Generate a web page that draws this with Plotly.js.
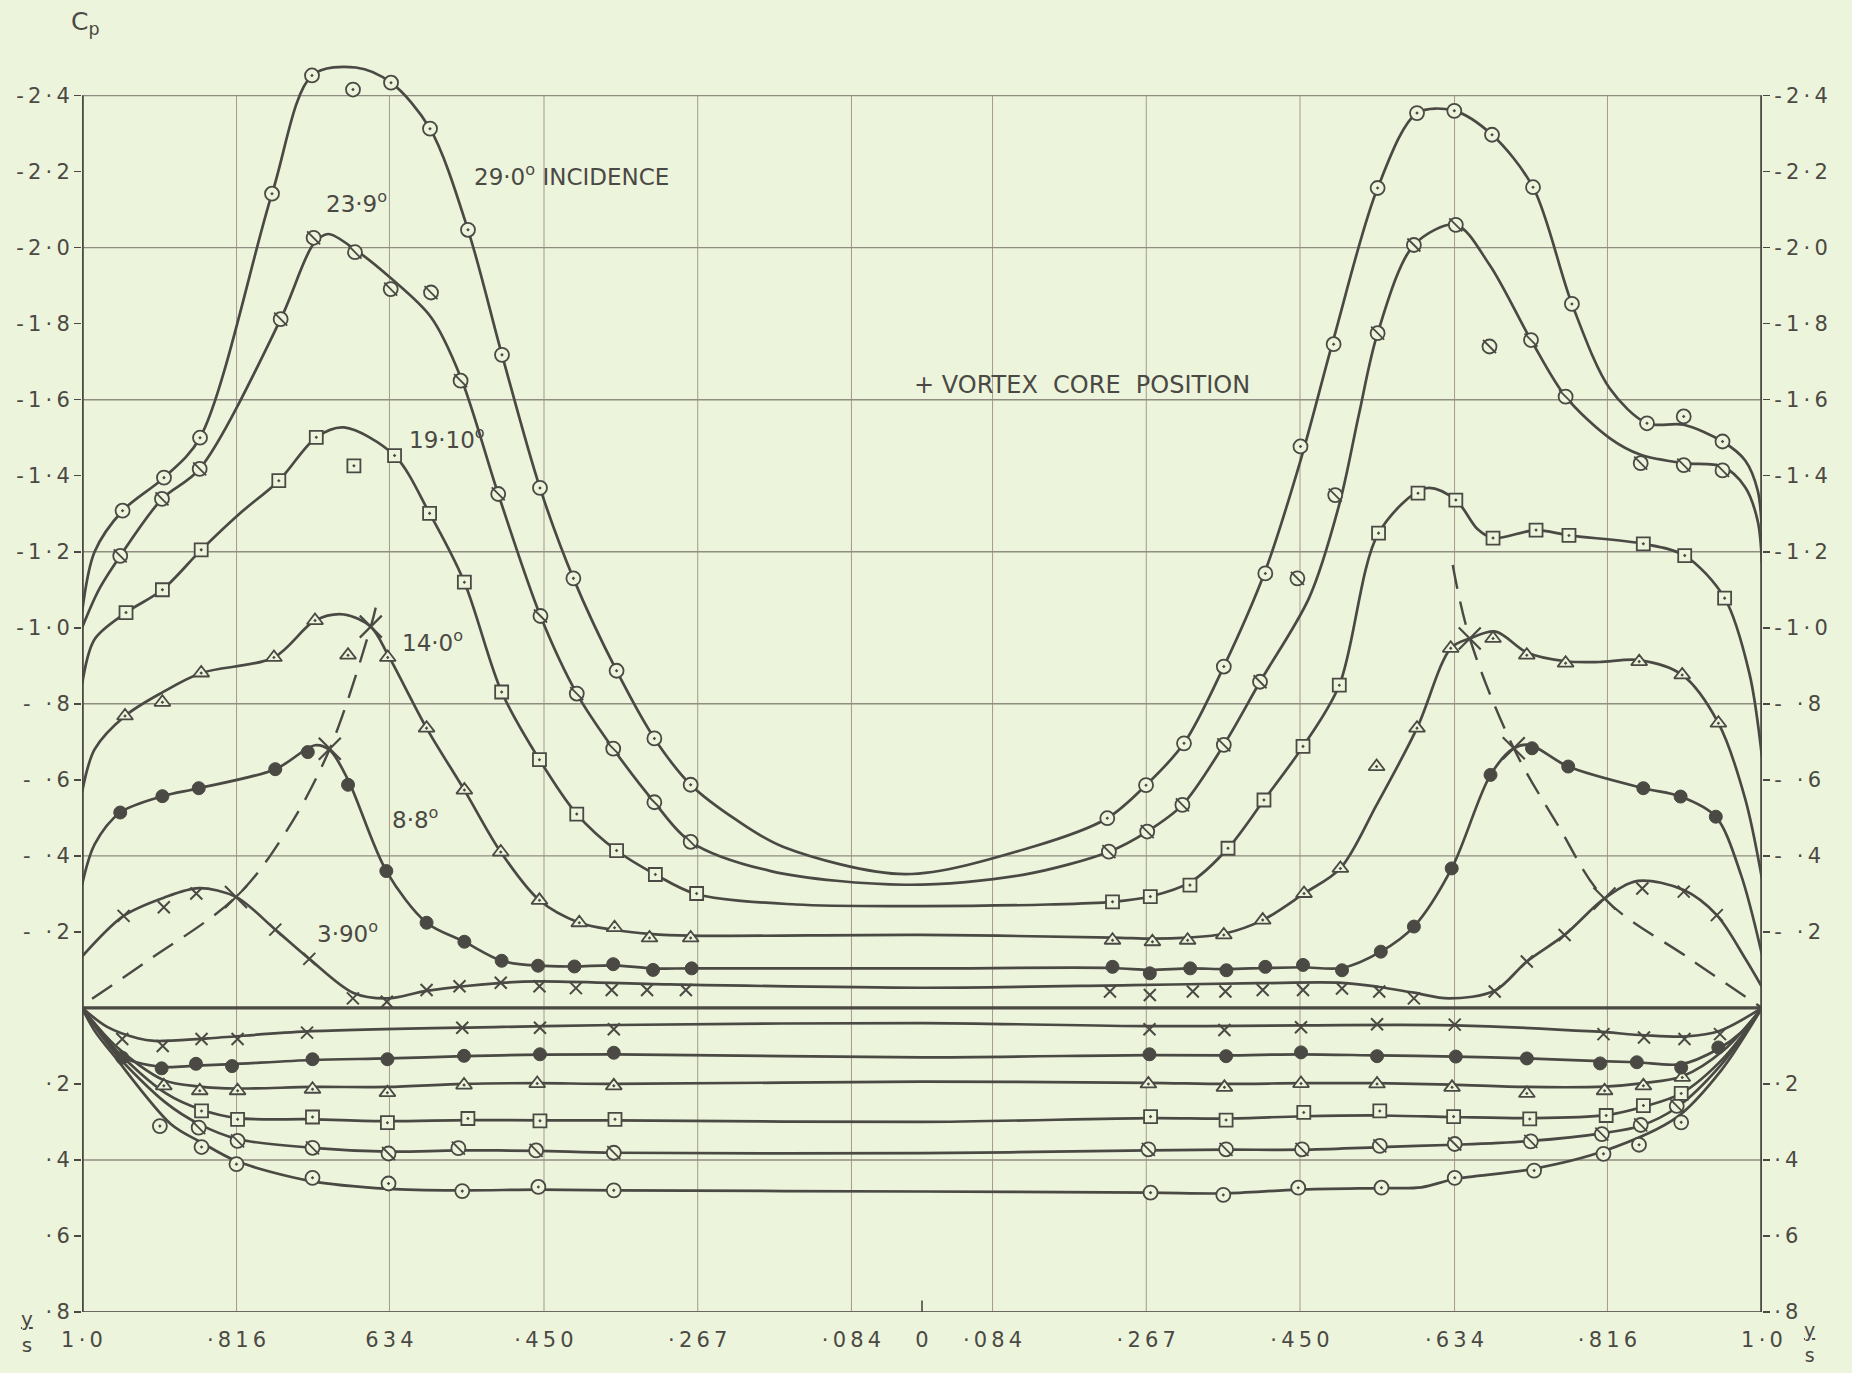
<!DOCTYPE html>
<html><head><meta charset="utf-8">
<script src="https://cdn.plot.ly/plotly-3.0.1.min.js"></script>
<style>html,body{margin:0;padding:0;background:#edf4dc;}#chart{width:1852px;height:1373px;}</style>
</head><body><div id="chart"></div>
<script>
// ---------- axis ticks ----------
const xTickVals = [-1, -0.816, -0.634, -0.45, -0.267, -0.084, 0, 0.084, 0.267, 0.45, 0.634, 0.816, 1];
const xTickText = ['1·0', '·816', '634', '·450', '·267', '·084', '0', '·084', '·267', '·450', '·634', '·816', '1·0'];
const yTickVals = [-2.4, -2.2, -2.0, -1.8, -1.6, -1.4, -1.2, -1.0, -0.8, -0.6, -0.4, -0.2, 0.2, 0.4, 0.6, 0.8];
const yTickText = ['-2·4', '-2·2', '-2·0', '-1·8', '-1·6', '-1·4', '-1·2', '-1·0', '- ·8', '- ·6', '- ·4', '- ·2', '·2', '·4', '·6', '·8'];
const gridY = [-2.4, -2.0, -1.6, -1.2, -0.8, -0.4, 0.4];

// ---------- 29.0 deg ----------
const m29uX = [-0.9517, -0.9024, -0.8595, -0.7738, -0.7262, -0.6774, -0.6321, -0.5857, -0.5405, -0.5, -0.4548, -0.415, -0.3636, -0.3186, -0.2754, 0.2206, 0.2667, 0.3119, 0.3593, 0.4087, 0.4506, 0.49, 0.5424, 0.5893, 0.6337, 0.6786, 0.7274, 0.7737, 0.8631, 0.9068, 0.953];
const m29uY = [-1.308, -1.395, -1.5, -2.142, -2.453, -2.416, -2.434, -2.313, -2.047, -1.718, -1.368, -1.13, -0.887, -0.709, -0.587, -0.499, -0.586, -0.696, -0.898, -1.143, -1.477, -1.746, -2.157, -2.354, -2.36, -2.297, -2.159, -1.852, -1.538, -1.556, -1.49];
const c29uX = [-1.0, -0.985, -0.9517, -0.9024, -0.8595, -0.7738, -0.7262, -0.674, -0.6321, -0.5857, -0.5405, -0.5, -0.4548, -0.415, -0.3636, -0.3186, -0.2754, -0.2214, -0.1656, -0.02, 0.132, 0.2206, 0.2667, 0.3119, 0.3593, 0.4087, 0.4506, 0.49, 0.5424, 0.5893, 0.6337, 0.6786, 0.7274, 0.7737, 0.8186, 0.8631, 0.9068, 0.953, 0.98, 0.995, 1.0];
const c29uY = [-1.04, -1.2, -1.308, -1.395, -1.5, -2.142, -2.453, -2.474, -2.434, -2.313, -2.047, -1.718, -1.368, -1.13, -0.887, -0.709, -0.587, -0.495, -0.424, -0.352, -0.424, -0.499, -0.586, -0.696, -0.898, -1.15, -1.44, -1.76, -2.157, -2.354, -2.36, -2.297, -2.159, -1.852, -1.63, -1.538, -1.534, -1.49, -1.44, -1.36, -1.25];
const m29lX = [-0.9073, -0.8577, -0.8161, -0.7256, -0.6351, -0.5473, -0.4567, -0.3669, 0.2721, 0.3587, 0.4479, 0.547, 0.6342, 0.7287, 0.8113, 0.8536, 0.9038];
const m29lY = [0.311, 0.366, 0.411, 0.447, 0.462, 0.482, 0.471, 0.48, 0.486, 0.492, 0.473, 0.473, 0.447, 0.428, 0.384, 0.36, 0.301];
const c29lX = [-1.0, -0.985, -0.96, -0.894, -0.8577, -0.8161, -0.729, -0.6351, -0.5473, -0.4567, -0.3669, 0.0, 0.2721, 0.3587, 0.4479, 0.547, 0.5945, 0.6342, 0.7267, 0.8126, 0.8985, 0.9512, 1.0];
const c29lY = [0, 0.06, 0.131, 0.306, 0.354, 0.403, 0.455, 0.476, 0.48, 0.478, 0.48, 0.483, 0.486, 0.488, 0.478, 0.474, 0.472, 0.45, 0.424, 0.376, 0.288, 0.165, 0];

// ---------- 23.9 deg ----------
const m239uX = [-0.9545, -0.9048, -0.8599, -0.7635, -0.7243, -0.675, -0.6325, -0.5845, -0.5493, -0.5045, -0.4542, -0.411, -0.3676, -0.3186, -0.2754, 0.2225, 0.2681, 0.31, 0.3593, 0.4024, 0.4469, 0.4919, 0.5424, 0.5856, 0.6355, 0.6756, 0.725, 0.7662, 0.8556, 0.9068, 0.953];
const m239uY = [-1.189, -1.339, -1.418, -1.812, -2.026, -1.988, -1.891, -1.882, -1.65, -1.352, -1.031, -0.827, -0.682, -0.541, -0.437, -0.411, -0.464, -0.534, -0.692, -0.858, -1.13, -1.349, -1.775, -2.007, -2.06, -1.74, -1.757, -1.608, -1.433, -1.428, -1.414];
const c239uX = [-1.0, -0.98, -0.9545, -0.9048, -0.8599, -0.7635, -0.7243, -0.707, -0.675, -0.6325, -0.5845, -0.5493, -0.5045, -0.4542, -0.411, -0.3676, -0.3186, -0.2754, -0.18, -0.02, 0.12, 0.2225, 0.2681, 0.31, 0.3593, 0.4024, 0.4611, 0.4974, 0.52, 0.5424, 0.5856, 0.6355, 0.6756, 0.725, 0.7662, 0.8186, 0.8556, 0.9068, 0.953, 0.98, 0.995, 1.0];
const c239uY = [-1.0, -1.1, -1.189, -1.339, -1.418, -1.812, -2.01, -2.036, -1.995, -1.92, -1.817, -1.66, -1.352, -1.031, -0.827, -0.682, -0.541, -0.437, -0.36, -0.324, -0.35, -0.411, -0.464, -0.534, -0.692, -0.858, -1.08, -1.33, -1.56, -1.775, -2.007, -2.06, -1.955, -1.757, -1.608, -1.499, -1.455, -1.433, -1.424, -1.37, -1.28, -1.17];
const m239lX = [-0.8611, -0.8148, -0.7256, -0.6351, -0.5519, -0.4594, -0.3669, 0.2695, 0.362, 0.4524, 0.545, 0.6342, 0.7248, 0.8093, 0.8556, 0.8985];
const m239lY = [0.315, 0.35, 0.368, 0.383, 0.369, 0.375, 0.381, 0.372, 0.372, 0.372, 0.363, 0.358, 0.351, 0.332, 0.308, 0.258];
const c239lX = [-1.0, -0.96, -0.9, -0.8611, -0.8148, -0.7256, -0.6351, -0.5519, -0.4594, -0.3669, 0.0, 0.2695, 0.362, 0.4524, 0.545, 0.6342, 0.7248, 0.8093, 0.8556, 0.8985, 0.9512, 1.0];
const c239lY = [0, 0.12, 0.25, 0.305, 0.345, 0.368, 0.378, 0.375, 0.376, 0.381, 0.382, 0.375, 0.373, 0.373, 0.366, 0.36, 0.35, 0.33, 0.31, 0.262, 0.15, 0];

// ---------- 19.10 deg ----------
const m191uX = [-0.9476, -0.9043, -0.8581, -0.7657, -0.7211, -0.6763, -0.6279, -0.5862, -0.5448, -0.5004, -0.4554, -0.411, -0.3636, -0.3174, -0.2683, 0.2268, 0.2718, 0.319, 0.3643, 0.4071, 0.4536, 0.4968, 0.5435, 0.5905, 0.6355, 0.6798, 0.731, 0.7702, 0.8587, 0.908, 0.9555];
const m191uY = [-1.04, -1.1, -1.205, -1.387, -1.501, -1.426, -1.453, -1.301, -1.12, -0.831, -0.653, -0.51, -0.414, -0.351, -0.301, -0.279, -0.293, -0.323, -0.42, -0.547, -0.688, -0.849, -1.249, -1.354, -1.336, -1.236, -1.257, -1.243, -1.221, -1.19, -1.078];
const c191uX = [-1.0, -0.985, -0.9476, -0.9043, -0.8581, -0.8125, -0.7657, -0.7211, -0.6881, -0.6279, -0.5862, -0.5448, -0.5004, -0.4554, -0.411, -0.3636, -0.3174, -0.2683, -0.15, 0.0, 0.15, 0.2268, 0.2718, 0.319, 0.3643, 0.4071, 0.4536, 0.4968, 0.5435, 0.5998, 0.6355, 0.6612, 0.6798, 0.731, 0.7702, 0.8587, 0.908, 0.9555, 0.985, 1.0];
const c191uY = [-0.85, -0.97, -1.04, -1.1, -1.205, -1.3, -1.387, -1.501, -1.527, -1.453, -1.301, -1.12, -0.831, -0.653, -0.51, -0.414, -0.351, -0.299, -0.272, -0.268, -0.272, -0.279, -0.293, -0.33, -0.42, -0.547, -0.688, -0.849, -1.249, -1.367, -1.336, -1.26, -1.236, -1.257, -1.243, -1.221, -1.19, -1.078, -0.88, -0.66];
const m191lX = [-0.8577, -0.8148, -0.7256, -0.6364, -0.5406, -0.4548, -0.3655, 0.2721, 0.362, 0.4545, 0.545, 0.6329, 0.7235, 0.8145, 0.8588, 0.9038];
const m191lY = [0.271, 0.293, 0.287, 0.302, 0.291, 0.297, 0.293, 0.286, 0.295, 0.275, 0.271, 0.286, 0.292, 0.283, 0.257, 0.225];
const c191lX = [-1.0, -0.96, -0.9, -0.8577, -0.8148, -0.7256, -0.6364, -0.5406, -0.4548, -0.3655, 0.0, 0.2721, 0.362, 0.4545, 0.545, 0.6329, 0.7235, 0.8145, 0.8588, 0.9038, 0.955, 1.0];
const c191lY = [0, 0.11, 0.225, 0.268, 0.29, 0.293, 0.298, 0.295, 0.296, 0.296, 0.3, 0.29, 0.291, 0.285, 0.283, 0.287, 0.29, 0.282, 0.26, 0.225, 0.13, 0];

// ---------- 14.0 deg ----------
const m140uX = [-0.9488, -0.9043, -0.8581, -0.7715, -0.7226, -0.6833, -0.636, -0.5898, -0.5448, -0.5015, -0.4554, -0.408, -0.366, -0.3244, -0.2754, 0.2268, 0.2743, 0.3162, 0.3593, 0.4056, 0.4548, 0.4981, 0.5412, 0.5893, 0.6294, 0.6798, 0.72, 0.7662, 0.8538, 0.905, 0.9481];
const m140uY = [-0.768, -0.804, -0.881, -0.922, -1.019, -0.928, -0.922, -0.736, -0.573, -0.41, -0.283, -0.224, -0.211, -0.184, -0.184, -0.178, -0.174, -0.178, -0.192, -0.231, -0.301, -0.367, -0.635, -0.736, -0.946, -0.972, -0.928, -0.907, -0.911, -0.876, -0.749];
const c140uX = [-1.0, -0.985, -0.9488, -0.9043, -0.8581, -0.7715, -0.7226, -0.688, -0.6562, -0.636, -0.5898, -0.5448, -0.5015, -0.4554, -0.408, -0.366, -0.3244, -0.2754, 0.0, 0.2268, 0.2743, 0.3162, 0.3593, 0.4056, 0.4548, 0.4981, 0.5412, 0.5893, 0.6294, 0.6521, 0.683, 0.72, 0.7662, 0.8063, 0.8538, 0.905, 0.9481, 0.98, 1.0];
const c140uY = [-0.567, -0.68, -0.768, -0.83, -0.881, -0.922, -1.019, -1.035, -1.003, -0.93, -0.736, -0.573, -0.41, -0.283, -0.224, -0.205, -0.195, -0.19, -0.192, -0.185, -0.182, -0.185, -0.195, -0.231, -0.301, -0.367, -0.534, -0.736, -0.946, -0.972, -0.99, -0.935, -0.912, -0.91, -0.915, -0.876, -0.749, -0.55, -0.34];
const m140lX = [-0.9026, -0.8598, -0.8148, -0.7256, -0.6364, -0.5452, -0.4581, -0.3669, 0.2695, 0.36, 0.4512, 0.5417, 0.631, 0.7201, 0.8126, 0.8588, 0.9051];
const m140lY = [0.205, 0.218, 0.218, 0.214, 0.223, 0.203, 0.199, 0.205, 0.2, 0.209, 0.199, 0.2, 0.209, 0.225, 0.218, 0.205, 0.183];
const c140lX = [-1.0, -0.96, -0.9026, -0.8598, -0.8148, -0.7256, -0.6364, -0.5452, -0.4581, -0.3669, 0.0, 0.2695, 0.36, 0.4512, 0.5417, 0.631, 0.7201, 0.8126, 0.8588, 0.9051, 0.955, 1.0];
const c140lY = [0, 0.1, 0.19, 0.207, 0.212, 0.208, 0.208, 0.2, 0.198, 0.2, 0.194, 0.197, 0.2, 0.198, 0.198, 0.202, 0.208, 0.207, 0.198, 0.18, 0.11, 0];

// ---------- 8.8 deg ----------
const m88uX = [-0.9545, -0.9043, -0.861, -0.7699, -0.7312, -0.6833, -0.6377, -0.5898, -0.5448, -0.5004, -0.4571, -0.4138, -0.3676, -0.3202, -0.2742, 0.2268, 0.2712, 0.3193, 0.3624, 0.4087, 0.4536, 0.5, 0.5462, 0.5856, 0.6306, 0.6768, 0.7262, 0.7693, 0.8587, 0.9031, 0.945];
const m88uY = [-0.514, -0.557, -0.578, -0.628, -0.673, -0.587, -0.36, -0.224, -0.174, -0.124, -0.111, -0.109, -0.115, -0.1, -0.104, -0.108, -0.091, -0.104, -0.099, -0.108, -0.113, -0.099, -0.148, -0.214, -0.367, -0.613, -0.683, -0.635, -0.578, -0.556, -0.503];
const c88uX = [-1.0, -0.985, -0.9545, -0.9043, -0.861, -0.7699, -0.7226, -0.705, -0.6833, -0.6377, -0.5898, -0.5448, -0.5004, -0.4571, -0.4138, -0.3676, -0.3202, -0.2742, 0.0, 0.2268, 0.2712, 0.3193, 0.3624, 0.4087, 0.4536, 0.5, 0.5462, 0.5856, 0.6306, 0.6768, 0.7045, 0.7231, 0.7693, 0.8587, 0.9031, 0.945, 0.975, 1.0];
const c88uY = [-0.323, -0.43, -0.514, -0.557, -0.578, -0.628, -0.691, -0.678, -0.6, -0.36, -0.224, -0.174, -0.124, -0.111, -0.109, -0.112, -0.104, -0.104, -0.104, -0.105, -0.1, -0.104, -0.102, -0.105, -0.107, -0.105, -0.148, -0.214, -0.367, -0.613, -0.683, -0.692, -0.635, -0.578, -0.556, -0.503, -0.35, -0.14];
const m88lX = [-0.9521, -0.9052, -0.8643, -0.8214, -0.7256, -0.6364, -0.5452, -0.4548, -0.3669, 0.2708, 0.362, 0.4512, 0.5417, 0.6355, 0.7201, 0.8073, 0.851, 0.9038, 0.948];
const m88lY = [0.131, 0.159, 0.147, 0.153, 0.135, 0.135, 0.126, 0.122, 0.118, 0.122, 0.127, 0.117, 0.127, 0.128, 0.133, 0.146, 0.143, 0.157, 0.104];
const c88lX = [-1.0, -0.975, -0.9521, -0.9052, -0.8643, -0.8214, -0.7256, -0.6364, -0.5452, -0.4548, -0.3669, 0.0, 0.2708, 0.362, 0.4512, 0.5417, 0.6355, 0.7201, 0.8073, 0.851, 0.9038, 0.948, 0.975, 1.0];
const c88lY = [0, 0.075, 0.128, 0.155, 0.152, 0.148, 0.137, 0.133, 0.127, 0.123, 0.122, 0.13, 0.124, 0.125, 0.122, 0.125, 0.128, 0.133, 0.14, 0.143, 0.148, 0.108, 0.065, 0];

// ---------- 3.90 deg ----------
const m39uX = [-0.9505, -0.9026, -0.8639, -0.7699, -0.7294, -0.6775, -0.6371, -0.5898, -0.5506, -0.5015, -0.4554, -0.412, -0.3694, -0.3273, -0.2811, 0.2238, 0.2712, 0.3224, 0.3612, 0.4056, 0.4536, 0.5, 0.5443, 0.5856, 0.6818, 0.72, 0.765, 0.8575, 0.9068, 0.9462];
const m39uY = [-0.242, -0.265, -0.301, -0.206, -0.129, -0.025, -0.016, -0.047, -0.057, -0.066, -0.057, -0.052, -0.047, -0.047, -0.047, -0.043, -0.034, -0.043, -0.043, -0.047, -0.047, -0.051, -0.043, -0.025, -0.043, -0.122, -0.192, -0.314, -0.306, -0.244];
const c39uX = [-1.0, -0.9505, -0.9026, -0.861, -0.8167, -0.7699, -0.7294, -0.6775, -0.636, -0.5898, -0.5, -0.457, -0.3, 0.0, 0.25, 0.4, 0.5, 0.5443, 0.5856, 0.6274, 0.6818, 0.72, 0.765, 0.8125, 0.8524, 0.9068, 0.9462, 0.98, 1.0];
const c39uY = [-0.135, -0.242, -0.29, -0.315, -0.292, -0.206, -0.129, -0.04, -0.025, -0.045, -0.066, -0.07, -0.062, -0.053, -0.06, -0.065, -0.066, -0.055, -0.04, -0.025, -0.045, -0.122, -0.192, -0.288, -0.334, -0.31, -0.244, -0.13, -0.055];
const m39lX = [-0.9521, -0.9039, -0.8577, -0.8148, -0.7321, -0.5473, -0.4548, -0.3669, 0.2708, 0.36, 0.4512, 0.5417, 0.6342, 0.8113, 0.8595, 0.9077, 0.95];
const m39lY = [0.082, 0.1, 0.082, 0.082, 0.065, 0.052, 0.052, 0.056, 0.056, 0.058, 0.051, 0.043, 0.044, 0.069, 0.078, 0.082, 0.069];
const c39lX = [-1.0, -0.97, -0.9337, -0.9139, -0.85, -0.7321, -0.5, -0.3655, 0.0, 0.2708, 0.4512, 0.6342, 0.8, 0.86, 0.91, 0.95, 1.0];
const c39lY = [0, 0.05, 0.08, 0.087, 0.08, 0.062, 0.05, 0.045, 0.04, 0.048, 0.046, 0.046, 0.062, 0.072, 0.075, 0.06, 0];

// ---------- vortex core position ----------
const vortexLeftX = [-0.988, -0.9245, -0.8167, -0.757, -0.705, -0.6562, -0.6503];
const vortexLeftY = [-0.024, -0.12, -0.292, -0.464, -0.682, -1.003, -1.053];
const vortexRightX = [0.6318, 0.6521, 0.7045, 0.757, 0.8125, 0.9135, 1.0];
const vortexRightY = [-1.165, -0.972, -0.683, -0.481, -0.288, -0.13, 0.0];
const vortexMarkX = [-0.8167, -0.705, -0.6562, 0.6521, 0.7045, 0.8125];
const vortexMarkY = [-0.292, -0.682, -1.003, -0.972, -0.683, -0.288];

// ---------- styling ----------
const BG = '#edf4dc', INK = '#4a4943', GRID = '#a59a8a';
const FONT = 'DejaVu Sans, Verdana, sans-serif';
const THIN = '\u2009';
function spaced(t) { return t.split('').join(THIN); }

function curve(x, y) {
  return {x: x, y: y, type: 'scatter', mode: 'lines', hoverinfo: 'skip', showlegend: false,
          line: {shape: 'spline', smoothing: 0.9, color: INK, width: 2.7}};
}
function marks(x, y, marker) {
  return {x: x, y: y, type: 'scatter', mode: 'markers', hoverinfo: 'skip', showlegend: false,
          cliponaxis: false, marker: marker};
}
const mkDotCircle = {symbol: 'circle-dot', size: 14, color: BG, line: {color: INK, width: 1.8}};
const mkCircle = {symbol: 'circle', size: 14, color: BG, line: {color: INK, width: 1.8}};
const mkSlash = {symbol: 'line-nw', size: 13, color: INK, line: {color: INK, width: 1.8}};
const mkSquare = {symbol: 'square-dot', size: 13, color: BG, line: {color: INK, width: 1.8}};
const mkTri = {symbol: 'triangle-up-dot', size: 14, color: BG, line: {color: INK, width: 1.8}};
const mkFilled = {symbol: 'circle', size: 13, color: INK, line: {color: INK, width: 1}};
const mkCross = {symbol: 'x-thin', size: 12, color: INK, line: {color: INK, width: 2}};
const mkVortex = {symbol: 'x-thin', size: 22, color: INK, line: {color: INK, width: 2.2}};

const traces = [
  curve(c29uX, c29uY), curve(c29lX, c29lY),
  curve(c239uX, c239uY), curve(c239lX, c239lY),
  curve(c191uX, c191uY), curve(c191lX, c191lY),
  curve(c140uX, c140uY), curve(c140lX, c140lY),
  curve(c88uX, c88uY), curve(c88lX, c88lY),
  curve(c39uX, c39uY), curve(c39lX, c39lY),
  {x: vortexLeftX, y: vortexLeftY, type: 'scatter', mode: 'lines', hoverinfo: 'skip', showlegend: false,
   line: {shape: 'spline', color: INK, width: 2.4, dash: '24px,13px'}},
  {x: vortexRightX, y: vortexRightY, type: 'scatter', mode: 'lines', hoverinfo: 'skip', showlegend: false,
   line: {shape: 'spline', color: INK, width: 2.4, dash: '24px,13px'}},
  marks(m29uX, m29uY, mkDotCircle), marks(m29lX, m29lY, mkDotCircle),
  marks(m239uX, m239uY, mkCircle), marks(m239lX, m239lY, mkCircle),
  marks(m239uX, m239uY, mkSlash), marks(m239lX, m239lY, mkSlash),
  marks(m191uX, m191uY, mkSquare), marks(m191lX, m191lY, mkSquare),
  marks(m140uX, m140uY, mkTri), marks(m140lX, m140lY, mkTri),
  marks(m88uX, m88uY, mkFilled), marks(m88lX, m88lY, mkFilled),
  marks(m39uX, m39uY, mkCross), marks(m39lX, m39lY, mkCross),
  marks(vortexMarkX, vortexMarkY, mkVortex),
  {x: [0], y: [0], yaxis: 'y2', type: 'scatter', mode: 'markers', marker: {opacity: 0}, hoverinfo: 'skip', showlegend: false}
];

// ---------- grid & frame ----------
const shapes = [];
xTickVals.forEach(function (v) {
  if (v === 0 || Math.abs(v) === 1) return;
  shapes.push({type: 'line', layer: 'below', xref: 'x', yref: 'y', x0: v, x1: v, y0: -2.4, y1: 0.8,
               line: {color: GRID, width: 1}});
});
gridY.forEach(function (v) {
  shapes.push({type: 'line', layer: 'below', xref: 'x', yref: 'y', x0: -1, x1: 1, y0: v, y1: v,
               line: {color: '#8f8c80', width: 1.4}});
});
shapes.push({type: 'line', layer: 'below', xref: 'x', yref: 'y', x0: -1, x1: 1, y0: 0, y1: 0, line: {color: INK, width: 3.4}});
shapes.push({type: 'line', layer: 'below', xref: 'x', yref: 'y', x0: -1, x1: 1, y0: 0.8, y1: 0.8, line: {color: '#6a6860', width: 2.2}});
shapes.push({type: 'line', layer: 'above', xref: 'x', yref: 'y', x0: -1, x1: -1, y0: -2.4, y1: 0.8, line: {color: INK, width: 3.6}});
shapes.push({type: 'line', layer: 'above', xref: 'x', yref: 'y', x0: 1, x1: 1, y0: -2.4, y1: 0.8, line: {color: INK, width: 3.6}});
shapes.push({type: 'line', layer: 'above', xref: 'x', yref: 'y', x0: 0, x1: 0, y0: 0.8, y1: 0.77, line: {color: INK, width: 1.6}});

const labelFont = {family: FONT, size: 23, color: INK};
const annotations = [
  {x: -0.536, y: -2.19, xref: 'x', yref: 'y', text: '29·0<sup>o</sup> INCIDENCE', showarrow: false, xanchor: 'left', font: labelFont},
  {x: -0.673, y: -2.12, xref: 'x', yref: 'y', text: '23·9<sup>o</sup>', showarrow: false, xanchor: 'center', font: labelFont},
  {x: -0.613, y: -1.5, xref: 'x', yref: 'y', text: '19·10<sup>o</sup>', showarrow: false, xanchor: 'left', font: labelFont},
  {x: -0.621, y: -0.965, xref: 'x', yref: 'y', text: '14·0<sup>o</sup>', showarrow: false, xanchor: 'left', font: labelFont},
  {x: -0.633, y: -0.5, xref: 'x', yref: 'y', text: '8·8<sup>o</sup>', showarrow: false, xanchor: 'left', font: labelFont},
  {x: -0.7226, y: -0.2, xref: 'x', yref: 'y', text: '3·90<sup>o</sup>', showarrow: false, xanchor: 'left', font: labelFont},
  {x: -0.012, y: -1.64, xref: 'x', yref: 'y', text: '+ VORTEX  CORE  POSITION', showarrow: false, xanchor: 'left', font: {family: FONT, size: 24, color: INK}},
  {x: 0.002, y: 1.021, xref: 'paper', yref: 'paper', text: 'C<sub>p</sub>', showarrow: false, xanchor: 'center', yanchor: 'middle', font: {family: FONT, size: 25, color: INK}},
  {x: -0.0327, y: -0.016, xref: 'paper', yref: 'paper', text: '<u>y</u><br>s', showarrow: false, xanchor: 'center', yanchor: 'middle', font: {family: FONT, size: 20, color: INK}},
  {x: 1.0280, y: -0.024, xref: 'paper', yref: 'paper', text: '<u>y</u><br>s', showarrow: false, xanchor: 'center', yanchor: 'middle', font: {family: FONT, size: 19, color: INK}}
];

const tickFont = {family: FONT, size: 21, color: INK};
const yCommon = {range: [0.8, -2.52], tickvals: yTickVals, ticktext: yTickText.map(spaced), ticks: 'outside', ticklen: 7,
  tickwidth: 1.5, tickcolor: INK, showgrid: false, zeroline: false, showline: false, tickfont: tickFont,
  automargin: false, fixedrange: true};

const layout = {
  width: 1852, height: 1373,
  paper_bgcolor: BG, plot_bgcolor: BG,
  margin: {l: 82, r: 90, t: 50, b: 61, pad: 0},
  showlegend: false,
  xaxis: {range: [-1, 1], tickvals: xTickVals, ticktext: xTickText.map(spaced), ticks: '', showgrid: false, zeroline: false,
          showline: false, tickfont: tickFont, ticklabelstandoff: 13, automargin: false, fixedrange: true},
  yaxis: Object.assign({}, yCommon, {side: 'left'}),
  yaxis2: Object.assign({}, yCommon, {side: 'right', overlaying: 'y', anchor: 'x'}),
  shapes: shapes,
  annotations: annotations
};

Plotly.newPlot('chart', traces, layout, {staticPlot: true, displayModeBar: false});
</script>
</body></html>
